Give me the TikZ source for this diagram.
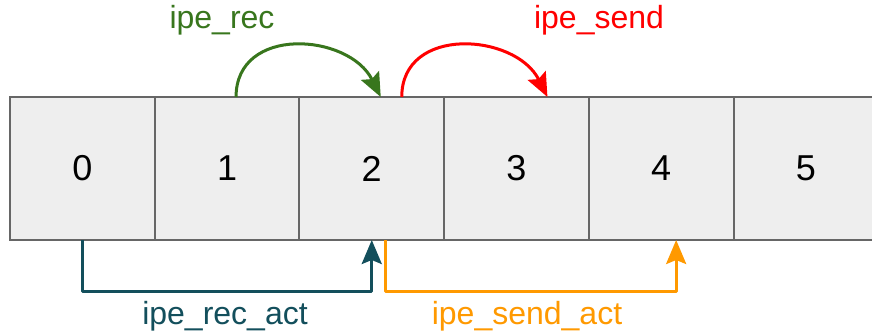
\documentclass[tikz,border=0pt]{standalone}
\usepackage{fontspec}
\setmainfont{Liberation Sans}
\usetikzlibrary{arrows.meta,calc}
\definecolor{recgreen}{HTML}{38761D}
\definecolor{actteal}{HTML}{134F5C}
\definecolor{sendorange}{HTML}{FF9900}
\definecolor{cellgray}{HTML}{EEEEEE}
\definecolor{edgegray}{HTML}{666666}

\begin{document}
\begin{tikzpicture}[x=1pt,y=-1pt,
    cell/.style={draw=edgegray, fill=cellgray, line width=2pt, outer sep=0pt,
      minimum width=144.7pt, minimum height=143pt, inner sep=0pt,
      font=\fontsize{36}{42}\selectfont},
    lbl/.style={font=\fontsize{32}{38}\selectfont, inner sep=0pt},
    jump/.style={line width=3pt, line join=round,
      -{Stealth[length=24pt,width=20pt,inset=4pt]}}]
  \useasboundingbox (0,0) rectangle (872,331);
  % the six cells of the array
  \foreach \i in {0,...,5}
    \node[cell] (c\i) at ({82.35+144.7*\i},168.5) {\i};
  % labels
  \node[lbl, text=recgreen]   (rec)     at (222,20)  {ipe\_rec};
  \node[lbl, text=red]        (send)    at (599,20)  {ipe\_send};
  \node[lbl, text=actteal]    (recact)  at (225,316) {ipe\_rec\_act};
  \node[lbl, text=sendorange] (sendact) at (527,316) {ipe\_send\_act};
  % arcs over the cells
  \draw[jump, recgreen] ($(c1.north)+(9,0)$) .. controls +(0,-72) and +(-32,-64) .. ($(c2.north)+(9,0)$);
  \draw[jump, red] ($(c2.north)+(30,0)$) .. controls +(0,-72) and +(-32,-64) .. ($(c3.north)+(31,0)$);
  % brackets under the cells
  \draw[jump, actteal] (c0.south) |- ($(c2.south)+(0,51)$) -- (c2.south);
  \draw[jump, sendorange] ($(c2.south)+(14,0)$) |- ($(c4.south)+(15,51)$) -- ($(c4.south)+(15,0)$);
\end{tikzpicture}
\end{document}
